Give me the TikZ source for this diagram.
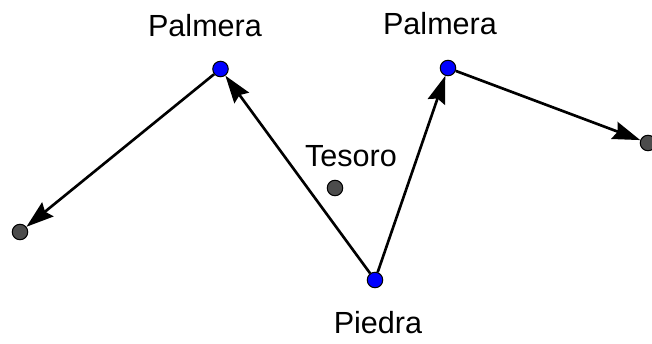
\documentclass[tikz,border=0pt]{standalone}
\usepackage{fontspec}
\setmainfont{Liberation Sans}
\usetikzlibrary{arrows.meta}

\begin{document}
\begin{tikzpicture}
            \tikzset{
              punto/.style={circle,draw=black,line width=0.6pt,inner sep=0pt,minimum size=0.31cm},
              palma/.style={punto,fill=blue},
              gris/.style={punto,fill=black!70},
              rotulo/.style={font=\fontsize{17.4}{20}\selectfont,inner sep=0pt},
              flecha/.style={line width=1.5pt,-{Stealth[length=0.55cm,width=0.36cm,inset=0.07cm]}}
            }
            \useasboundingbox (0,0) rectangle (13.04,6.86);

            \node[palma] (palmeraA) at (4.41,5.48) {};
            \node[palma] (palmeraB) at (8.96,5.50) {};
            \node[palma] (piedra) at (7.50,1.26) {};
            \node[gris] (tesoro) at (6.70,3.10) {};
            \node[gris] (finA) at (0.40,2.22) {};
            \node[gris] (finB) at (12.96,4.00) {};

            \node[rotulo] (rotA) at (4.10,6.35) {Palmera};
            \node[rotulo] (rotB) at (8.80,6.38) {Palmera};
            \node[rotulo] (rotT) at (7.02,3.74) {Tesoro};
            \node[rotulo] (rotP) at (7.56,0.40) {Piedra};

            \draw[flecha] (piedra) -- (palmeraA);
            \draw[flecha] (palmeraA) -- (finA);
            \draw[flecha] (piedra) -- (palmeraB);
            \draw[flecha] (palmeraB) -- (finB);
        \end{tikzpicture}
\end{document}
